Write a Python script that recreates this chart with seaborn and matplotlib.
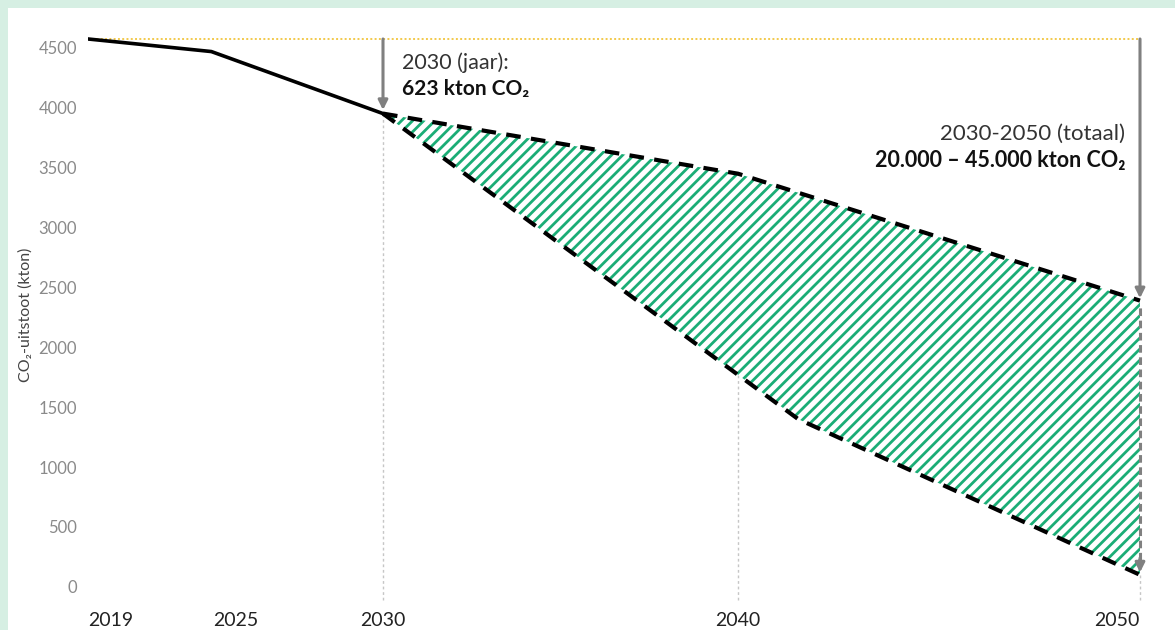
import numpy as np
import pandas as pd
import seaborn as sns
import matplotlib.pyplot as plt
from matplotlib.patches import Rectangle

# data (kton CO2)
years_hist = [2019, 2024, 2030]
co2_hist = [4575, 4470, 3952]
years_high = [2030, 2040, 2050]
co2_high = [3952, 3450, 2390]
years_low = [2030, 2041.5, 2050]
co2_low = [3952, 1400, 100]
baseline = 4575
guide_years = [2030, 2040, 2050]
guide_top = [3952, 1790, 100]
tick_years = [2019, 2025, 2030, 2040, 2050]
ytick_vals = list(range(0, 4501, 500))

# the original x axis is not linear in years -> piecewise mapping
scale_years = [2019, 2025, 2030, 2040, 2050]
scale_pos = [0, 148, 295, 650, 1052]

green = '#1bad76'
grey = '#808080'

sns.set_theme(style='white')
plt.rcParams['font.family'] = ['Lato', 'DejaVu Sans']
plt.rcParams['hatch.linewidth'] = 2.0

def fwd(x):
    return np.interp(x, scale_years, scale_pos)

def inv(p):
    return np.interp(p, scale_pos, scale_years)

fig = plt.figure(figsize=(11.75, 6.3), dpi=100, facecolor='#d6efe3')
fig.patches.append(Rectangle((8 / 1175, 0), 1, 622 / 630, transform=fig.transFigure,
                             facecolor='white', edgecolor='none', zorder=-10))
ax = fig.add_axes([88 / 1175, 30 / 630, 1052 / 1175, 570 / 630])
ax.set_facecolor('none')
ax.set_xscale('function', functions=(fwd, inv))

# hatched range between scenarios
ax.fill(np.r_[years_high, years_low[::-1]], np.r_[co2_high, co2_low[::-1]],
        facecolor='white', edgecolor=green, hatch='///', lw=0, zorder=1)

ax.hlines(baseline, 2019, 2050, colors='#f2c94c', lw=1.4, linestyles=(0, (1, 1.2)),
          zorder=2, clip_on=False)
ax.vlines(guide_years, -110, guide_top, colors='#c6c6c6', lw=1, linestyles=(0, (2, 2)),
          zorder=0.5, clip_on=False)

sns.lineplot(x=years_hist, y=co2_hist, color='black', lw=2.6, ax=ax, zorder=4,
             solid_capstyle='round')
sns.lineplot(x=years_high, y=co2_high, color='black', lw=3, ls=(0, (3.5, 2.5)), ax=ax,
             zorder=4, clip_on=False)
sns.lineplot(x=years_low, y=co2_low, color='black', lw=3, ls=(0, (3.5, 2.5)), ax=ax,
             zorder=4, clip_on=False)

# arrows
ax.annotate('', xy=(2030, co2_hist[-1] + 30), xytext=(2030, baseline),
            arrowprops=dict(arrowstyle='-|>', color=grey, lw=2.2, mutation_scale=14,
                            shrinkA=0, shrinkB=0), zorder=5)
ax.annotate('', xy=(2050, co2_high[-1] + 20), xytext=(2050, baseline),
            arrowprops=dict(arrowstyle='-|>', color=grey, lw=2.2, mutation_scale=14,
                            shrinkA=0, shrinkB=0), zorder=5, annotation_clip=False)
ax.vlines(2050, co2_low[-1] + 120, co2_high[-1] - 30, colors=grey, lw=2.2,
          linestyles=(0, (2.5, 1.5)), zorder=5, clip_on=False)
ax.annotate('', xy=(2050, co2_low[-1] + 20), xytext=(2050, co2_low[-1] + 140),
            arrowprops=dict(arrowstyle='-|>', color=grey, lw=2.2, mutation_scale=14,
                            shrinkA=0, shrinkB=0), zorder=5, annotation_clip=False)

ax.text(2030.54, 4324, '2030 (jaar):', fontsize=15.5, color='#333333', va='baseline')
ax.text(2030.54, 4107, '623 kton CO₂', fontsize=15, color='#111111', va='baseline',
        fontweight='bold')
ax.text(2049.63, 3731, '2030-2050 (totaal)', fontsize=16, color='#333333',
        va='baseline', ha='right')
ax.text(2049.63, 3506, '20.000 – 45.000 kton CO₂', fontsize=15.5, color='#111111',
        va='baseline', ha='right', fontweight='bold')

ax.set_xlim(2019, 2050)
ax.set_ylim(-110, 4650)
ax.set_yticks(ytick_vals)
ax.set_xticks(tick_years)
ax.set_xticklabels([str(y) for y in tick_years])
ax.xaxis.get_ticklabels()[0].set_ha('left')
ax.xaxis.get_ticklabels()[-1].set_ha('right')
ax.tick_params(axis='y', length=0, pad=8, labelsize=12, labelcolor='#8a8a8a')
ax.tick_params(axis='x', length=0, pad=9, labelsize=14, labelcolor='#222222')
ax.set_xlabel('')
ax.set_ylabel('CO₂-uitstoot (kton)', fontsize=11.5, color='#444444')
ax.yaxis.set_label_coords(-55 / 1052, 0.5)
sns.despine(ax=ax, left=True, bottom=True)

fig.savefig('out.png', dpi=100, facecolor=fig.get_facecolor())
